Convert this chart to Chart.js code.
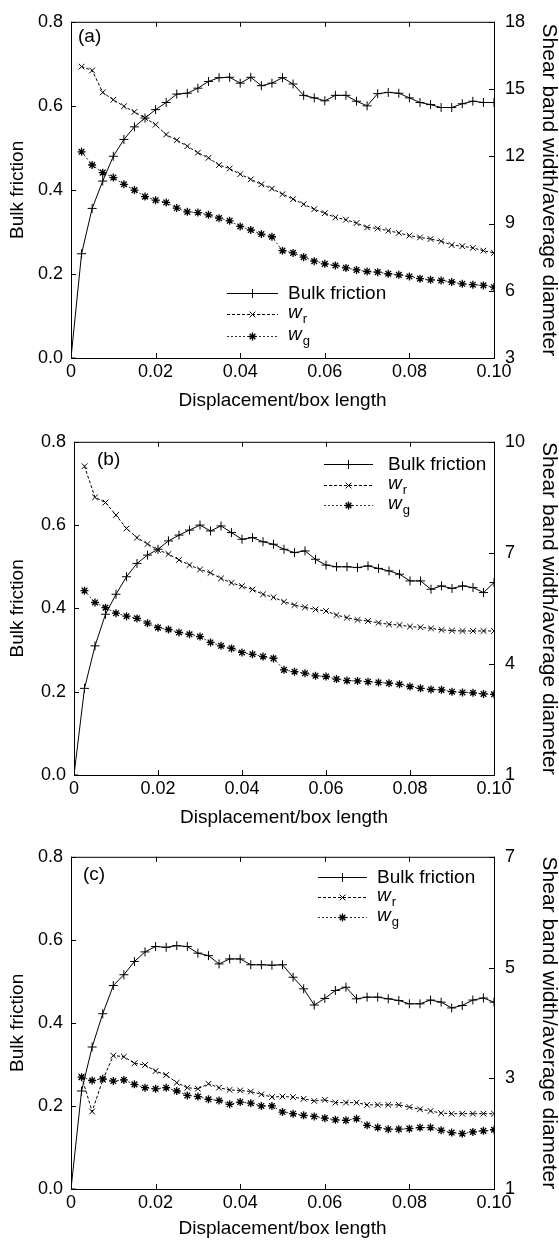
<!DOCTYPE html>
<html>
<head>
<meta charset="utf-8">
<script src="https://cdn.jsdelivr.net/npm/chart.js@4.4.1/dist/chart.umd.min.js"></script>
<style>
  body { margin: 0; background: #fff; }
  .wrap { position: relative; width: 559px; height: 1242px; }
  canvas { position: absolute; left: 0; }
</style>
</head>
<body>
<div class="wrap">
  <canvas id="chartA" width="559" height="420" style="top:0px"></canvas>
  <canvas id="chartB" width="559" height="415" style="top:420px"></canvas>
  <canvas id="chartC" width="559" height="407" style="top:835px"></canvas>
</div>
<script>
// DATA
// displacement / box length, shared by all panels
const disp = [0, 0.0025, 0.005, 0.0075, 0.01, 0.0125, 0.015, 0.0175, 0.02, 0.0225,
  0.025, 0.0275, 0.03, 0.0325, 0.035, 0.0375, 0.04, 0.0425, 0.045, 0.0475,
  0.05, 0.0525, 0.055, 0.0575, 0.06, 0.0625, 0.065, 0.0675, 0.07, 0.0725,
  0.075, 0.0775, 0.08, 0.0825, 0.085, 0.0875, 0.09, 0.0925, 0.095, 0.0975, 0.1]

const xTicks = [0, 0.02, 0.04, 0.06, 0.08, 0.1]
const frictionTicks = [0, 0.2, 0.4, 0.6, 0.8]

// panel (a)
const frictionA = [0, 0.248, 0.356, 0.421, 0.480, 0.520, 0.550, 0.571, 0.591, 0.608,
  0.628, 0.630, 0.642, 0.658, 0.667, 0.668, 0.654, 0.668, 0.648, 0.654,
  0.667, 0.652, 0.625, 0.619, 0.612, 0.625, 0.625, 0.611, 0.600, 0.629,
  0.632, 0.630, 0.619, 0.608, 0.603, 0.596, 0.596, 0.605, 0.611, 0.608, 0.608]
const wrA = [null, 16.0, 15.83, 14.85, 14.52, 14.23, 13.98, 13.71, 13.41, 12.97,
  12.72, 12.45, 12.16, 11.93, 11.61, 11.45, 11.20, 10.97, 10.75, 10.56,
  10.31, 10.09, 9.86, 9.64, 9.46, 9.27, 9.17, 9.02, 8.83, 8.78,
  8.68, 8.58, 8.46, 8.38, 8.31, 8.21, 8.04, 7.99, 7.91, 7.79, 7.69]
const wgA = [null, 12.20, 11.61, 11.27, 11.05, 10.75, 10.49, 10.20, 10.04, 9.94,
  9.69, 9.52, 9.49, 9.39, 9.24, 9.12, 8.87, 8.71, 8.53, 8.41,
  7.79, 7.69, 7.50, 7.32, 7.20, 7.13, 7.02, 6.93, 6.86, 6.83,
  6.76, 6.71, 6.64, 6.54, 6.49, 6.46, 6.39, 6.31, 6.27, 6.24, 6.16]
const widthTicksA = [3, 6, 9, 12, 15, 18]

// panel (b)
const frictionB = [0, 0.208, 0.310, 0.386, 0.434, 0.476, 0.508, 0.528, 0.542, 0.562,
  0.576, 0.588, 0.600, 0.586, 0.598, 0.582, 0.566, 0.570, 0.560, 0.554,
  0.542, 0.534, 0.538, 0.518, 0.504, 0.500, 0.500, 0.498, 0.502, 0.496,
  0.490, 0.482, 0.466, 0.466, 0.446, 0.454, 0.448, 0.454, 0.450, 0.438, 0.462]
const wrB = [null, 9.34, 8.50, 8.36, 8.02, 7.66, 7.41, 7.24, 7.08, 6.97,
  6.81, 6.67, 6.55, 6.46, 6.31, 6.19, 6.10, 6.01, 5.88, 5.80,
  5.68, 5.59, 5.53, 5.47, 5.43, 5.32, 5.25, 5.19, 5.16, 5.11,
  5.07, 5.05, 5.01, 4.99, 4.96, 4.92, 4.90, 4.89, 4.89, 4.89, 4.89]
const wgB = [null, 5.98, 5.66, 5.52, 5.37, 5.29, 5.23, 5.10, 4.98, 4.93,
  4.85, 4.80, 4.74, 4.58, 4.49, 4.42, 4.31, 4.26, 4.20, 4.15,
  3.84, 3.79, 3.75, 3.68, 3.66, 3.59, 3.55, 3.54, 3.52, 3.50,
  3.48, 3.45, 3.39, 3.34, 3.31, 3.30, 3.25, 3.23, 3.22, 3.19, 3.18]
const widthTicksB = [1, 4, 7, 10]

// panel (c)
const frictionC = [0, 0.236, 0.342, 0.422, 0.490, 0.516, 0.548, 0.571, 0.584, 0.582,
  0.586, 0.584, 0.568, 0.562, 0.542, 0.554, 0.554, 0.540, 0.540, 0.539,
  0.540, 0.510, 0.482, 0.443, 0.459, 0.478, 0.486, 0.458, 0.462, 0.462,
  0.458, 0.454, 0.446, 0.446, 0.455, 0.450, 0.436, 0.442, 0.455, 0.460, 0.450]
const wrC = [null, 3.03, 2.40, 2.97, 3.41, 3.39, 3.27, 3.24, 3.13, 3.06,
  2.92, 2.83, 2.81, 2.90, 2.83, 2.79, 2.78, 2.76, 2.71, 2.66,
  2.67, 2.66, 2.63, 2.59, 2.61, 2.56, 2.56, 2.56, 2.52, 2.52,
  2.52, 2.52, 2.48, 2.44, 2.41, 2.37, 2.36, 2.36, 2.36, 2.36, 2.36]
const wgC = [null, 3.02, 2.96, 2.99, 2.95, 2.97, 2.89, 2.83, 2.81, 2.83,
  2.77, 2.69, 2.67, 2.62, 2.60, 2.53, 2.57, 2.55, 2.50, 2.50,
  2.39, 2.36, 2.33, 2.31, 2.28, 2.25, 2.24, 2.27, 2.15, 2.11,
  2.08, 2.08, 2.09, 2.11, 2.11, 2.06, 2.02, 2.00, 2.03, 2.05, 2.07]
const widthTicksC = [1, 3, 5, 7]

const FONT = '"Liberation Sans", Arial, sans-serif'
Chart.defaults.font.family = FONT
Chart.defaults.color = '#000'

const toPoints = (ys) => disp.map((x, i) => ({ x: x, y: ys[i] }))

// frame, inward ticks, panel letter and legend
const framePlugin = {
  id: 'frame',
  afterDraw(chart, args, opts) {
    const { ctx, chartArea: a, scales } = chart
    ctx.save()
    ctx.strokeStyle = '#000'
    ctx.lineWidth = 1
    ctx.setLineDash([])
    ctx.strokeRect(a.left + 0.5, a.top + 0.5, a.right - a.left, a.bottom - a.top)

    const len = 5
    ctx.beginPath()
    scales.x.ticks.forEach(t => {
      const px = Math.round(scales.x.getPixelForValue(t.value)) + 0.5
      ctx.moveTo(px, a.bottom); ctx.lineTo(px, a.bottom - len)
      ctx.moveTo(px, a.top); ctx.lineTo(px, a.top + len)
    })
    scales.y.ticks.forEach(t => {
      const py = Math.round(scales.y.getPixelForValue(t.value)) + 0.5
      ctx.moveTo(a.left, py); ctx.lineTo(a.left + len, py)
    })
    scales.y1.ticks.forEach(t => {
      const py = Math.round(scales.y1.getPixelForValue(t.value)) + 0.5
      ctx.moveTo(a.right, py); ctx.lineTo(a.right - len, py)
    })
    ctx.stroke()

    // panel letter
    ctx.fillStyle = '#000'
    ctx.textBaseline = 'middle'
    ctx.textAlign = 'left'
    ctx.font = '19px ' + FONT
    ctx.fillText(opts.letter, opts.letterX, opts.letterY)

    // legend
    const items = chart.data.datasets
    items.forEach((ds, i) => {
      const y = opts.legendY[i] + 0.5
      ctx.strokeStyle = ds.borderColor
      ctx.lineWidth = 1
      ctx.setLineDash(ds.borderDash || [])
      ctx.beginPath()
      ctx.moveTo(opts.lineX0, y)
      ctx.lineTo(opts.lineX1, y)
      ctx.stroke()
      ctx.setLineDash([])
      ctx.strokeStyle = '#000'
      ctx.lineWidth = ds.pointBorderWidth
      Chart.helpers.drawPoint(ctx, {
        pointStyle: ds.pointStyle, radius: ds.pointRadius, rotation: 0, borderWidth: ds.pointBorderWidth
      }, (opts.lineX0 + opts.lineX1) / 2, y)

      ctx.fillStyle = '#000'
      if (ds.sub) {
        ctx.font = 'italic 19px ' + FONT
        ctx.fillText(ds.main, opts.textX, y - 2)
        const w = ctx.measureText(ds.main).width
        ctx.font = '13px ' + FONT
        ctx.fillText(ds.sub, opts.textX + w + 1, y + 5)
      } else {
        ctx.font = '19px ' + FONT
        ctx.fillText(ds.label, opts.textX, y)
      }
    })
    ctx.restore()
  }
}

const makePanel = (id, friction, wr, wg, widthTicks, layout) => {
  const ctx = document.getElementById(id).getContext('2d')
  new Chart(ctx, {
    type: 'line',
    data: {
      datasets: [
        {
          label: 'Bulk friction',
          data: toPoints(friction),
          yAxisID: 'y',
          borderColor: '#000',
          borderWidth: 1,
          pointStyle: 'cross',
          pointRadius: 4.5,
          pointBorderWidth: 1,
          pointBorderColor: '#000',
          tension: 0,
          fill: false,
        },
        {
          label: 'wr', main: 'w', sub: 'r',
          data: toPoints(wr),
          yAxisID: 'y1',
          borderColor: '#000',
          borderWidth: 1,
          borderDash: [3, 2],
          pointStyle: 'crossRot',
          pointRadius: 4,
          pointBorderWidth: 1,
          pointBorderColor: '#000',
          tension: 0,
          fill: false,
        },
        {
          label: 'wg', main: 'w', sub: 'g',
          data: toPoints(wg),
          yAxisID: 'y1',
          borderColor: '#333',
          borderWidth: 1,
          borderDash: [2, 2],
          pointStyle: 'star',
          pointRadius: 4,
          pointBorderWidth: 1.3,
          pointBorderColor: '#000',
          tension: 0,
          fill: false,
        },
      ]
    },
    options: {
      responsive: false,
      animation: false,
      layout: { padding: { top: layout.top, left: 0, right: 0, bottom: 0 } },
      plugins: {
        legend: { display: false },
        tooltip: { enabled: false },
        frame: layout.frame,
      },
      scales: {
        x: {
          type: 'linear',
          min: 0, max: 0.1,
          afterBuildTicks: (s) => { s.ticks = xTicks.map(v => ({ value: v })) },
          ticks: {
            font: { size: 18 },
            padding: 3,
            maxRotation: 0,
            callback: (v) => v === 0 ? '0' : v.toFixed(2),
          },
          grid: { display: false, drawTicks: false },
          border: { display: false },
          title: {
            display: true,
            text: 'Displacement/box length',
            font: { size: 19, lineHeight: 1 },
            padding: { top: 0, bottom: layout.titlePad },
          },
          afterFit: (s) => { s.height = layout.xHeight },
        },
        y: {
          position: 'left',
          min: 0, max: 0.8,
          afterBuildTicks: (s) => { s.ticks = frictionTicks.map(v => ({ value: v })) },
          ticks: {
            font: { size: 18 },
            padding: 8,
            callback: (v) => v.toFixed(1),
          },
          grid: { display: false, drawTicks: false },
          border: { display: false },
          title: {
            display: true,
            text: 'Bulk friction',
            font: { size: 19, lineHeight: 1 },
            padding: { top: 8, bottom: 0 },
          },
          afterFit: (s) => { s.width = layout.leftW },
        },
        y1: {
          position: 'right',
          min: widthTicks[0], max: widthTicks[widthTicks.length - 1],
          afterBuildTicks: (s) => { s.ticks = widthTicks.map(v => ({ value: v })) },
          ticks: {
            font: { size: 18 },
            padding: 11,
          },
          grid: { display: false, drawTicks: false },
          border: { display: false },
          title: {
            display: true,
            text: 'Shear band width/average diameter',
            font: { size: 21, lineHeight: 1 },
            padding: { top: 0, bottom: 0 },
          },
          afterFit: (s) => { s.width = 65 },
        },
      }
    },
    plugins: [framePlugin]
  })
}

makePanel('chartA', frictionA, wrA, wgA, widthTicksA, {
  top: 20, xHeight: 62, titlePad: 10, leftW: 71,
  frame: { letter: '(a)', letterX: 78, letterY: 37,
    legendY: [293, 314, 336], lineX0: 227, lineX1: 278, textX: 288 }
})

makePanel('chartB', frictionB, wrB, wgB, widthTicksB, {
  top: 21, xHeight: 60, titlePad: 8, leftW: 74,
  frame: { letter: '(b)', letterX: 97, letterY: 40,
    legendY: [44, 65, 85], lineX0: 324, lineX1: 373, textX: 388 }
})

makePanel('chartC', frictionC, wrC, wgC, widthTicksC, {
  top: 21, xHeight: 53, titlePad: 4, leftW: 71,
  frame: { letter: '(c)', letterX: 83, letterY: 40,
    legendY: [42, 62, 82], lineX0: 318, lineX1: 367, textX: 377 }
})
</script>
</body>
</html>
